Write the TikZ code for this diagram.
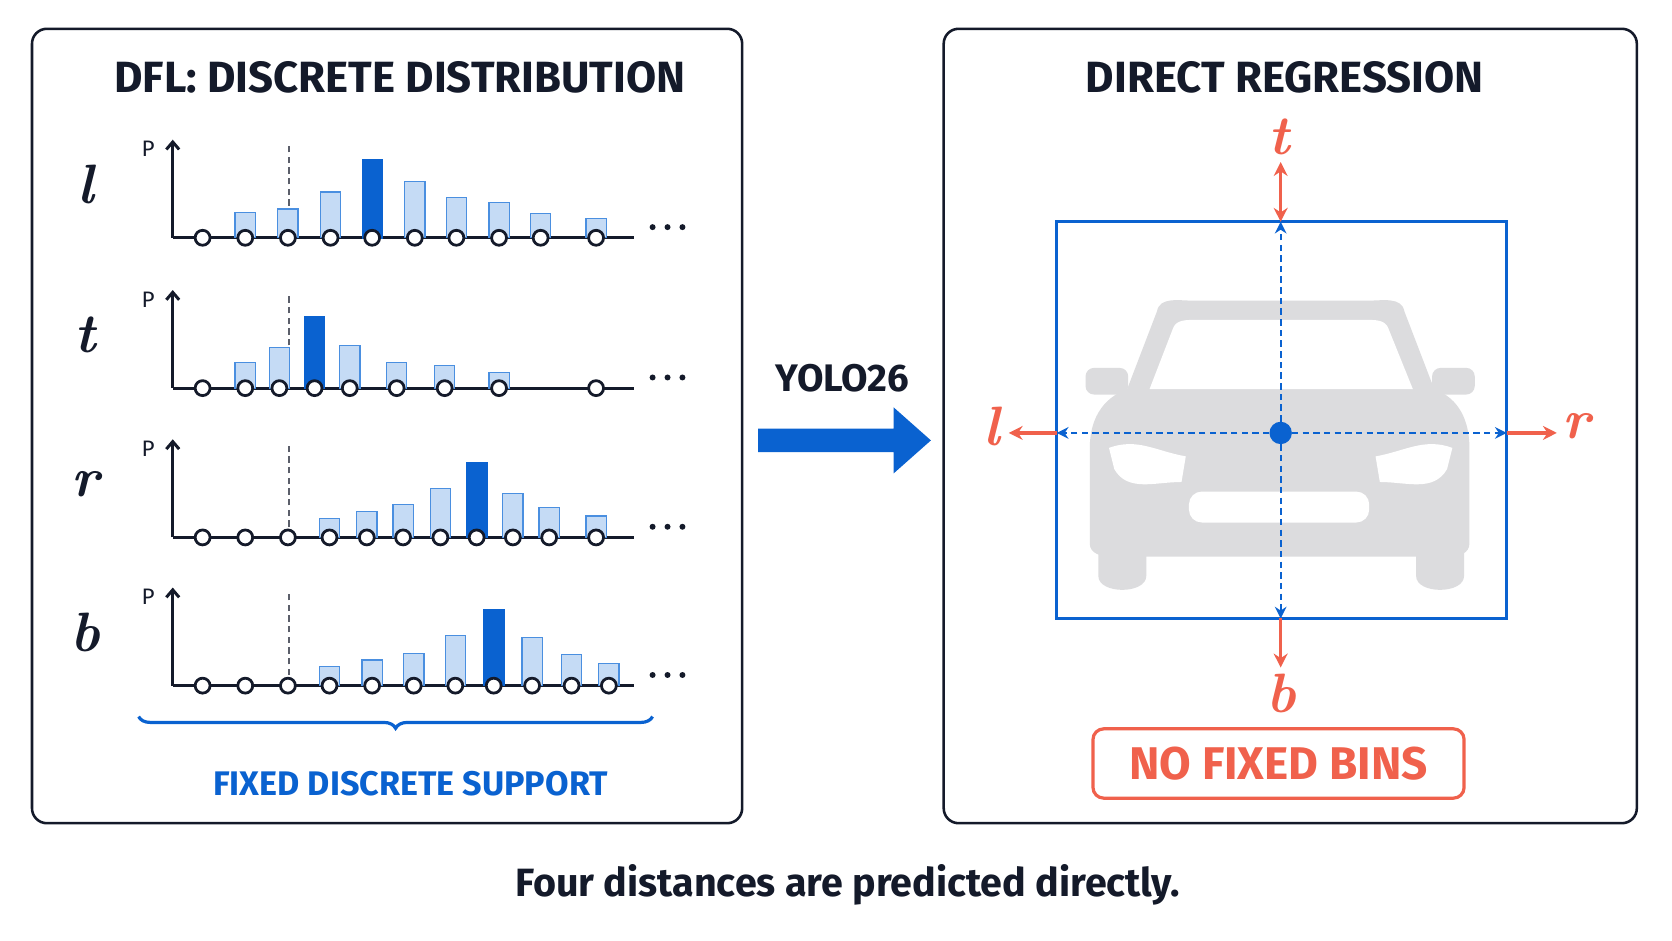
\documentclass[tikz,border=0pt]{standalone}
\usepackage{fontspec}
\setsansfont{Fira Sans}
\usetikzlibrary{arrows.meta,decorations.pathreplacing,positioning}
\definecolor{dflblue}{HTML}{0A62D0}
\definecolor{barfill}{HTML}{C5DBF5}
\definecolor{barline}{HTML}{4A8FE0}
\definecolor{ink}{HTML}{141A2A}
\definecolor{redc}{HTML}{F0614C}
\definecolor{carg}{HTML}{DCDCDE}
\tikzset{
  panel/.style={draw=ink,line width=2.4pt,rounded corners=14pt},
  title/.style={font=\sffamily\bfseries\fontsize{41}{44}\selectfont,text=ink},
  side/.style={font=\rmfamily\bfseries\itshape\fontsize{52}{52}\selectfont,text=ink},
  tick/.style={circle,draw=ink,fill=white,line width=2.6pt,inner sep=0pt,minimum size=14pt},
  bar/.style={draw=barline,fill=barfill,line width=1.2pt},
  pbar/.style={draw=dflblue,fill=dflblue},
  red arrow/.style={redc,line width=3pt,-{Stealth[length=13pt,width=13pt]}},
  blue dash/.style={dflblue,line width=2pt,dash pattern=on 6pt off 4pt,-{Stealth[length=11pt,width=11pt]}},
}
% baseline y, support points, bars x/h, peak x/h, letter
\newcommand{\distchart}[5]{
  \draw[ink,line width=3pt] (162,#1) -- (595,#1);
  \draw[ink,line width=2.8pt,-{Straight Barb[length=7pt,width=12pt]}] (162,#1) -- (162,#1-92);
  \node[font=\sffamily\fontsize{21}{21}\selectfont,text=ink] at (139,#1-83) {P};
  \draw[ink!70,line width=1.8pt,dash pattern=on 6pt off 4pt] (271,#1) -- (271,#1-89);
  \foreach \x/\h in {#3} \draw[bar] (\x-9.5,#1) rectangle (\x+9.5,#1-\h);
  \foreach \x/\h in {#4} \draw[pbar] (\x-9.5,#1) rectangle (\x+9.5,#1-\h);
  \foreach \x in {#2} \node[tick] at (\x,#1) {};
  \foreach \x in {612,626,640} \fill[ink] (\x,#1-10) circle (2.8pt);
  \node[side] at (80,#1-50) {#5};
}
\begin{document}
\begin{tikzpicture}[x=1pt,y=-1pt]
\useasboundingbox (0,0) rectangle (1568,882);
\fill[white] (0,0) rectangle (1568,882);
%---panels-------------------------------------------
\draw[panel] (30,27) rectangle (696,772);
\draw[panel] (885,27) rectangle (1535,772);
\node[title] (dfltitle) at (375,73) {DFL: DISCRETE DISTRIBUTION};
\node[title] (regtitle) at (1205,73) {DIRECT REGRESSION};
%---charts-------------------------------------------
\distchart{223}{190,230,270,310,349,389,428,468,507,559}{230/24,270/27,310/43,389/53,428/38,468/33,507/23,559/18}{349/74}{l}
\distchart{364}{190,230,262,295,328,372,417,468,559}{230/24,262/38,328/40,372/24,417/21,468/15}{295/67}{t}
\distchart{504}{190,230,270,309,344,378,413,447,481,515,559}{309/18,344/24,378/31,413/46,481/41,515/28,559/20}{447/71}{r}
\distchart{643}{190,230,270,309,349,388,427,463,499,536,571}{309/18,349/24,388/30,427/47,499/45,536/29,571/21}{463/72}{b}
\draw[dflblue,line width=3pt,decorate,decoration={brace,amplitude=11pt,mirror}] (130,672) -- (612,672);
\node[font=\sffamily\bfseries\fontsize{32}{34}\selectfont,text=dflblue] (support) at (385,735) {FIXED DISCRETE SUPPORT};
%---YOLO26 arrow-------------------------------------
\node[font=\sffamily\bfseries\fontsize{36}{36}\selectfont,text=ink] (yolo) at (790,355) {YOLO26};
\fill[dflblue] (711,402) -- (838,402) -- (838,382) -- (873,413) -- (838,444) -- (838,424) -- (711,424) -- cycle;
%---car-----------------------------------------------
\fill[carg] (1030,500) -- (1030,540) to[out=-90,in=-90] (1075,540) -- (1075,505) -- cycle;
\fill[carg] (1328,505) -- (1328,540) to[out=-90,in=-90] (1373,540) -- (1373,500) -- cycle;
\fill[carg] (1085,292) to[out=80,in=180] (1120,282) -- (1282,282) to[out=0,in=100] (1317,292)
  -- (1345,365) to[out=-20,in=90] (1378,420) -- (1378,510) to[out=-90,in=0] (1360,522)
  -- (1042,522) to[out=180,in=-90] (1022,510) -- (1022,420) to[out=90,in=200] (1057,365) -- cycle;
\fill[carg,rounded corners=8pt] (1018,345) rectangle (1058,370);
\fill[carg,rounded corners=8pt] (1343,345) rectangle (1383,370);
\fill[white] (1078,365) -- (1100,308) to[out=70,in=180] (1120,300) -- (1282,300) to[out=0,in=110] (1302,308) -- (1325,365) -- cycle;
\fill[white] (1040,420) to[out=20,in=170] (1112,428) -- (1108,452) to[out=180,in=-60] (1045,440) -- cycle;
\fill[white] (1362,420) to[out=160,in=10] (1290,428) -- (1294,452) to[out=0,in=-120] (1357,440) -- cycle;
\fill[white,rounded corners=12pt] (1115,461) rectangle (1284,490);
%---box and distances---------------------------------
\draw[dflblue,line width=3pt] (991,208) rectangle (1413,580);
\node[circle,fill=dflblue,minimum size=21pt,inner sep=0pt] (ctr) at (1201,406) {};
\coordinate (btop) at (1201,208);
\coordinate (bbot) at (1201,580);
\coordinate (bleft) at (991,406);
\coordinate (bright) at (1413,406);
\draw[blue dash] (ctr) -- (btop);
\draw[blue dash] (ctr) -- (bbot);
\draw[blue dash] (ctr) -- (bleft);
\draw[blue dash] (ctr) -- (bright);
\node[side,text=redc] (tl) at (1200,128) {t};
\node[side,text=redc] (bl) at (1202,650) {b};
\node[side,text=redc] (ll) at (930,400) {l};
\node[side,text=redc] (rl) at (1478,400) {r};
\draw[red arrow,{Stealth[length=13pt,width=13pt]}-{Stealth[length=13pt,width=13pt]}] (btop) -- (1201,152);
\draw[red arrow] (bbot) -- (1201,626);
\draw[red arrow] (bleft) -- (946,406);
\draw[red arrow] (bright) -- (1460,406);
\node[draw=redc,line width=3pt,rounded corners=10pt,minimum width=348pt,minimum height=65pt,
  font=\sffamily\bfseries\fontsize{43}{45}\selectfont,text=redc] (nobins) at (1199,716) {NO FIXED BINS};
%---caption---------------------------------------------
\node[font=\sffamily\bfseries\fontsize{37}{39}\selectfont,text=ink] (caption) at (795,830) {Four distances are predicted directly.};
\end{tikzpicture}
\end{document}
